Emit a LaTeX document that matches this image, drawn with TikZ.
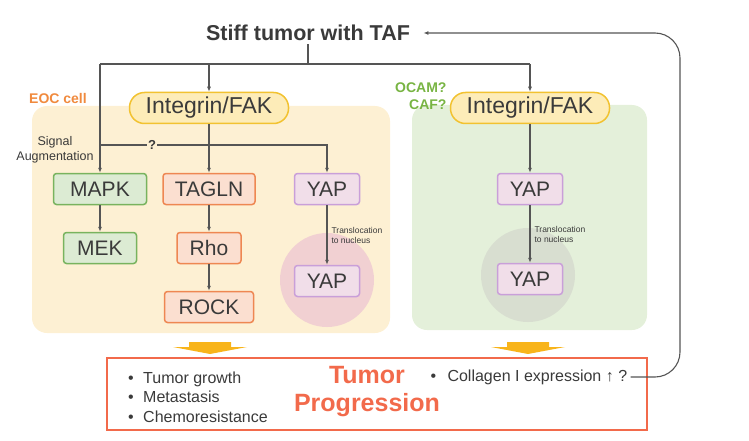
\documentclass[tikz,border=0pt]{standalone}
\usepackage{fontspec}
\setmainfont{Liberation Sans}
\usetikzlibrary{arrows.meta}

\definecolor{txtgray}{HTML}{3A3A3A}
\definecolor{linegray}{HTML}{555555}
\definecolor{intfill}{HTML}{FDECB8}
\definecolor{intdraw}{HTML}{F2C230}
\definecolor{mapkfill}{HTML}{DCEBD3}
\definecolor{mapkdraw}{HTML}{78B35E}
\definecolor{taglnfill}{HTML}{FBDFD0}
\definecolor{taglndraw}{HTML}{EE8752}
\definecolor{yapfill}{HTML}{F1DEE9}
\definecolor{yapdraw}{HTML}{C99FD9}
\definecolor{eocbg}{HTML}{FDF0D3}
\definecolor{cafbg}{HTML}{E4F0DA}
\definecolor{nucpink}{HTML}{EEC9D2}
\definecolor{nucgray}{HTML}{D5DACE}
\definecolor{progred}{HTML}{F26A4B}
\definecolor{eocorange}{HTML}{F08A3E}
\definecolor{cafgreen}{HTML}{78B443}
\definecolor{bigarrow}{HTML}{F8B41A}

\tikzset{
  protein/.style={draw, line width=1.5pt, rounded corners=3pt, minimum height=31pt,
    inner sep=0pt, text=txtgray, font=\fontsize{21}{21}\selectfont},
  integrin/.style={protein, fill=intfill, draw=intdraw, rounded corners=15pt,
    minimum width=159pt, font=\fontsize{23}{23}\selectfont},
  mapkbox/.style={protein, fill=mapkfill, draw=mapkdraw},
  taglnbox/.style={protein, fill=taglnfill, draw=taglndraw},
  yapbox/.style={protein, fill=yapfill, draw=yapdraw, minimum width=65pt},
  link/.style={draw=linegray, line width=1.1pt},
  arr/.style={link, -{Latex[length=5pt,width=4pt]}},
  trans/.style={right, inner sep=4pt, align=left, text=txtgray, font=\fontsize{8.5}{10}\selectfont},
}

\begin{document}
\begin{tikzpicture}[x=1pt,y=-1pt] % stiff matrix -> signalling -> progression
\useasboundingbox (0,0) rectangle (749,441);
    % cell areas and nuclei
    \fill[eocbg, rounded corners=15pt] (32,106) rectangle (390,333);
    \fill[cafbg, rounded corners=15pt] (412,105) rectangle (647,330);
    \fill[nucpink, opacity=0.8] (327,280) circle (47);
    \fill[nucgray, opacity=0.8] (528,275) circle (47);

    \node[font=\bfseries\fontsize{21.5}{21.5}\selectfont, text=txtgray] (taf) at (308,33) {Stiff tumor with TAF};
    \node[font=\bfseries\fontsize{14}{17}\selectfont, text=eocorange] (eoc) at (58,98) {EOC cell};
    \node[font=\bfseries\fontsize{14}{17}\selectfont, text=cafgreen, align=right, anchor=east] (caf) at (450,96) {OCAM?\\CAF?};
    \node[align=center, font=\fontsize{12.5}{15.5}\selectfont, text=txtgray] (aug) at (55,150) {Signal\\Augmentation};

    \node[integrin] (int1) at (209,108) {Integrin/FAK};
    \node[integrin] (int2) at (530,108) {Integrin/FAK};
    \node[mapkbox, minimum width=93pt] (mapk) at (100,189) {MAPK};
    \node[mapkbox, minimum width=73pt] (mek) at (100,248) {MEK};
    \node[taglnbox, minimum width=92pt] (tagln) at (209,189) {TAGLN};
    \node[taglnbox, minimum width=64pt] (rho) at (209,248) {Rho};
    \node[taglnbox, minimum width=89pt] (rock) at (209,307) {ROCK};
    \node[yapbox] (yap) at (327,189) {YAP};
    \node[yapbox] (yapnuc) at (327,281) {YAP};
    \node[yapbox] (cafyap) at (530,189) {YAP};
    \node[yapbox] (cafyapnuc) at (530,279) {YAP};

    % from the stiff tumor
    \coordinate (split) at (100,64);
    \coordinate (signal) at (100,145);
    \coordinate (loop) at (680,0);
    \draw[link] (taf.south) -- (taf.south |- split);
    \draw[link] (split) -- (int2.north |- split);
    \draw[arr] (split) -- (mapk.north);
    \draw[arr] (int1.north |- split) -- (int1.north);
    \draw[arr] (int2.north |- split) -- (int2.north);
    \draw[arr] (signal) -- ++(52,0) node[fill=eocbg, inner sep=1pt, text=txtgray,
        font=\bfseries\fontsize{13}{13}\selectfont] (q) {?} -| (yap.north);

    \draw[arr] (int1) -- (tagln);
    \draw[arr] (mapk) -- (mek);
    \draw[arr] (tagln) -- (rho);
    \draw[arr] (rho) -- (rock);
    \draw[arr] (yap) -- node[trans] {Translocation\\to nucleus} (yapnuc);
    \draw[arr] (int2) -- (cafyap);
    \draw[arr] (cafyap) -- node[trans] {Translocation\\to nucleus} (cafyapnuc);

    % outcome
    \foreach \x in {210,528}
        \fill[bigarrow] (\x-21,342) -- (\x+21,342) -- (\x+21,347) -- (\x+37,347)
            -- (\x,354) -- (\x-37,347) -- (\x-21,347) -- cycle;
    \node[draw=progred, line width=2.5pt, minimum width=540pt, minimum height=72pt] (outcome) at (377,394) {};
    \node[anchor=west, align=left, font=\fontsize{16}{19.5}\selectfont, text=txtgray] (hallmarks) at (124.7,397)
        {\makebox[15pt][l]{•}Tumor growth\\\makebox[15pt][l]{•}Metastasis\\\makebox[15pt][l]{•}Chemoresistance};
    \node[font=\bfseries\fontsize{25}{28}\selectfont, text=progred, align=center] (prog) at (367,392) {Tumor\\Progression};
    \node[anchor=west, font=\fontsize{16}{16}\selectfont, text=txtgray] (col) at (427,377)
        {\makebox[17pt][l]{•}Collagen I expression ↑ ?};

    \draw[arr, rounded corners=25pt, shorten >=10pt] (col.east) -| (taf.east -| loop) -- (taf.east);
\end{tikzpicture}
\end{document}
